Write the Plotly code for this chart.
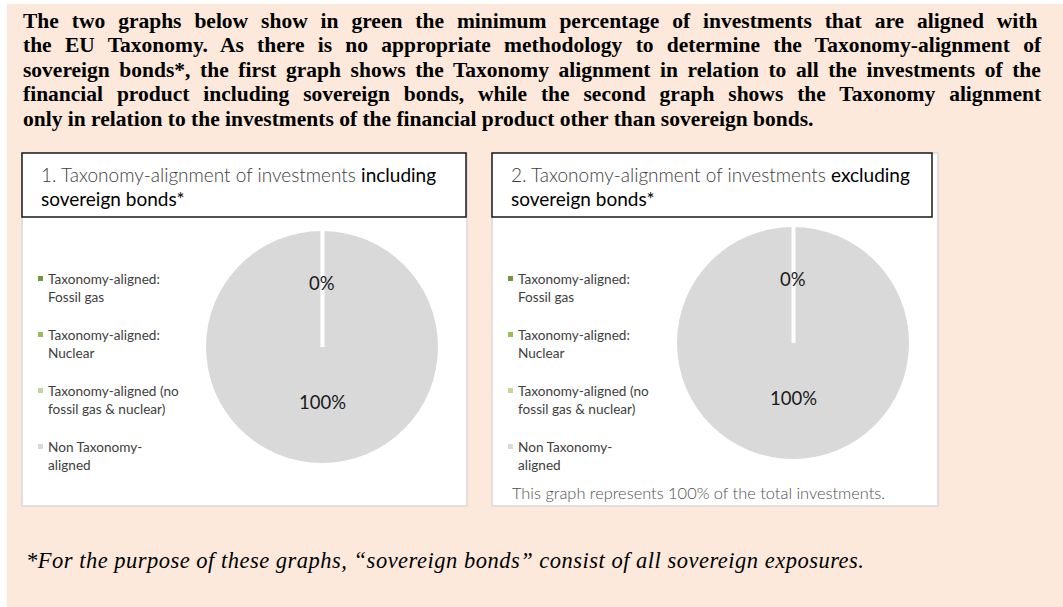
import plotly.graph_objects as go

W, H = 1063, 607

# ---- data ----
labels = ["Taxonomy-aligned:<br>Fossil gas",
          "Taxonomy-aligned:<br>Nuclear",
          "Taxonomy-aligned (no<br>fossil gas & nuclear)",
          "Non Taxonomy-<br>aligned"]
colors = ["#77933C", "#9BBB59", "#C3D69B", "#D9D9D9"]
values_incl = [0, 0, 0, 100]
values_excl = [0, 0, 0, 100]

header_lines = [
    "The two graphs below show in green the minimum percentage of investments that are aligned with",
    "the EU Taxonomy. As there is no appropriate methodology to determine the Taxonomy-alignment of",
    "sovereign bonds*, the first graph shows the Taxonomy alignment in relation to all the investments of the",
    "financial product including sovereign bonds, while the second graph shows the Taxonomy alignment",
    "only in relation to the investments of the financial product other than sovereign bonds.",
]
header_word_spacing = [7.55, 7.9, 4.2, 8.5, 0]
footnote = "*For the purpose of these graphs, \u201csovereign bonds\u201d consist of all sovereign exposures."
titles = [("1. Taxonomy-alignment of investments ", "including", "sovereign bonds*"),
          ("2. Taxonomy-alignment of investments ", "excluding", "sovereign bonds*")]
note = "This graph represents 100% of the total investments."


def px(x):
    return x / W


def py(y):
    return 1 - y / H


fig = go.Figure()
shapes = []
ann = []

# background
shapes.append(dict(type="rect", xref="paper", yref="paper", x0=px(7), x1=px(W), y0=py(H), y1=py(4),
                   fillcolor="#FCE9DB", line=dict(width=0), layer="below"))

panels = [
    dict(x0=22, x1=467, tx1=466, pie=(322, 347, 116), values=values_incl),
    dict(x0=492, x1=938, tx1=932, pie=(793, 343, 116), values=values_excl),
]

for i, p in enumerate(panels):
    # panel box
    shapes.append(dict(type="rect", xref="paper", yref="paper", x0=px(p["x0"]), x1=px(p["x1"]),
                       y0=py(506), y1=py(153), fillcolor="white",
                       line=dict(color="#D9D9D9", width=1.5), layer="below"))
    # title box
    shapes.append(dict(type="rect", xref="paper", yref="paper", x0=px(p["x0"]), x1=px(p["tx1"]),
                       y0=py(217), y1=py(153), fillcolor="white",
                       line=dict(color="#1a1a1a", width=1.5), layer="below"))
    t1, tb, t2 = titles[i]
    ann.append(dict(xref="paper", yref="paper", x=px(p["x0"] + 17), y=py(175), xanchor="left",
                    yanchor="middle", showarrow=False, align="left",
                    text=t1 + '<span style="font-weight:400;fill:#000000">' + tb + '</span>',
                    font=dict(family="Lato", size=19, color="#404040", weight=300)))
    ann.append(dict(xref="paper", yref="paper", x=px(p["x0"] + 17), y=py(199), xanchor="left",
                    yanchor="middle", showarrow=False, align="left",
                    text=t2, font=dict(family="Lato", size=19, color="#000000", weight=400)))

    cx, cy, r = p["pie"]
    fig.add_trace(go.Pie(
        labels=labels, values=p["values"], sort=False, direction="clockwise", rotation=0,
        marker=dict(colors=colors, line=dict(color="white", width=0)),
        textinfo="none", showlegend=False, hole=0,
        domain=dict(x=[px(cx - r), px(cx + r)], y=[py(cy + r), py(cy - r)]),
    ))
    # white separator at the 0% boundary (start of the pie, top)
    shapes.append(dict(type="line", xref="paper", yref="paper", x0=px(cx + 0.5), x1=px(cx + 0.5),
                       y0=py(cy), y1=py(cy - r - 1), line=dict(color="white", width=4)))
    total = sum(p["values"])
    aligned = sum(p["values"][:3]) / total * 100
    non = p["values"][3] / total * 100
    ann.append(dict(xref="paper", yref="paper", x=px(cx), y=py(cy - 64), showarrow=False,
                    xanchor="center", yanchor="middle",
                    text=f"{aligned:.0f}%", font=dict(family="Lato", size=18.5, color="#1a1a1a")))
    ann.append(dict(xref="paper", yref="paper", x=px(cx), y=py(cy + 55), showarrow=False,
                    xanchor="center", yanchor="middle",
                    text=f"{non:.0f}%", font=dict(family="Lato", size=18.5, color="#1a1a1a")))

    # legend
    sq_x = p["x0"] + 16
    for k, (lab, col) in enumerate(zip(labels, colors)):
        ly = 278.5 + 56 * k
        shapes.append(dict(type="rect", xref="paper", yref="paper", x0=px(sq_x), x1=px(sq_x + 5),
                           y0=py(ly + 2.5), y1=py(ly - 2.5), fillcolor=col, line=dict(width=0)))
        ann.append(dict(xref="paper", yref="paper", x=px(sq_x + 8), y=py(ly - 10), xanchor="left",
                        yanchor="top", showarrow=False, align="left", text=lab,
                        font=dict(family="Lato", size=13.6, color="#404040")))

ann.append(dict(xref="paper", yref="paper", x=px(510), y=py(492), xanchor="left", yanchor="middle",
                showarrow=False, text=note, font=dict(family="Lato", size=16.4, color="#505050", weight=300)))

for k, line in enumerate(header_lines):
    ws = header_word_spacing[k]
    txt = f'<span style="word-spacing:{ws}px">{line}</span>' if ws else line
    ann.append(dict(xref="paper", yref="paper", x=px(21), y=py(35 + 24.5 * k), xanchor="left",
                    yanchor="bottom", showarrow=False, align="left", text=txt,
                    font=dict(family="Liberation Serif", size=21.5, color="#000000", weight=700)))

ann.append(dict(xref="paper", yref="paper", x=px(24), y=py(560), xanchor="left", yanchor="middle",
                showarrow=False,
                text=f'<span style="letter-spacing:0.5px">{footnote}</span>',
                font=dict(family="Liberation Serif", size=22.5, color="#000000", style="italic")))

fig.update_layout(width=W, height=H, margin=dict(l=0, r=0, t=0, b=0),
                  paper_bgcolor="white", plot_bgcolor="white",
                  shapes=shapes, annotations=ann)
fig.write_html("out.html", config={"displayModeBar": False},
               post_script="document.body.style.margin='0px';")
